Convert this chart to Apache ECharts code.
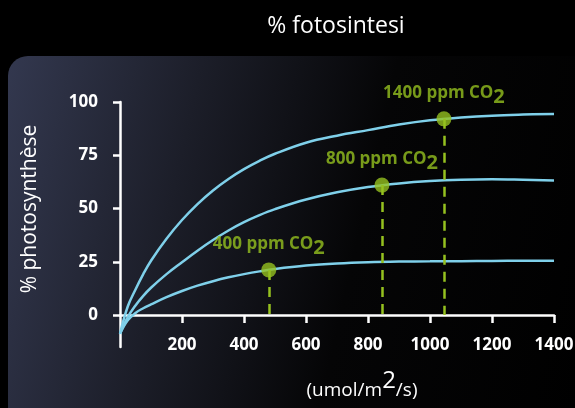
<!DOCTYPE html>
<html><head><meta charset="utf-8">
<script src="https://cdn.jsdelivr.net/npm/echarts@6/dist/echarts.min.js"></script>
<style>html,body{margin:0;padding:0;background:#000;}#c{width:575px;height:408px;}</style>
</head><body><div id="c"></div>
<script>
var xTicks = [200, 400, 600, 800, 1000, 1200, 1400];
var yTicks = [0, 25, 50, 75, 100];
var curveX    = [0,    25,   50,  75,   100,  150,  200,  250,  300,  350,  400,  450,  500,  600,  700,  800,  900,  1000, 1100, 1200, 1300,  1400];
var curve1400 = [-8.8, 4,    12,  19.2, 25.5, 35.8, 44.6, 52.1, 58.5, 63.9, 68.5, 72.4, 75.7, 80.9, 84.2, 86.8, 89.4, 91.4, 92.7, 93.6, 94.1,  94.4];
var curve800  = [-8.8, -1,   4.5, 9,    12.8, 19.2, 24.8, 30.2, 35.2, 39.7, 43.6, 46.9, 49.7, 54.2, 57.6, 60.1, 61.8, 62.9, 63.5, 63.7, 63.5,  63.2];
var curve400  = [-8.8, -2.5, 1,   3.2,  5,    8.4,  11.3, 13.8, 15.9, 17.7, 19.2, 20.5, 21.6, 23.2, 24.2, 24.8, 25.1, 25.2, 25.3, 25.4, 25.45, 25.5];
var pointsX = [480, 845, 1045];
var pointsY = [21.2, 61.0, 92.1];
var pointLabels = ['400 ppm CO', '800 ppm CO', '1400 ppm CO'];

var chart = echarts.init(document.getElementById('c'));
var font = 'Open Sans';
var green = '#95c11f';
var blue = '#7fd0ea';

function curveSeries(ys){
  return {type:'line', data:curveX.map(function(x,i){return [x, ys[i]];}),
    smooth:0.4, symbol:'none', clip:false,
    lineStyle:{color:blue, width:2.5}, z:3};
}
var ptData = pointsX.map(function(x,i){
  return {value:[x, pointsY[i]], label:{formatter:'{a|'+pointLabels[i]+'}{b|2}'}};
});
var dashData = pointsX.map(function(x,i){
  return [{coord:[x, pointsY[i]]},{coord:[x, 0]}];
});

chart.setOption({
  backgroundColor:'#000',
  animation:false,
  title:{text:'% fotosintesi', left:331, top:10, textAlign:'center',
    textStyle:{color:'#fff', fontFamily:font, fontWeight:'normal', fontSize:23}},
  graphic:[
    {type:'rect', z:-10, shape:{x:8, y:56, width:620, height:400, r:20},
      style:{fill:new echarts.graphic.LinearGradient(0,0,1,0.35,[
        {offset:0, color:'#33384f'},
        {offset:0.3, color:'#1c1e29'},
        {offset:0.6, color:'#050506'},
        {offset:1, color:'#000'}])}},
    {type:'text', x:30, y:209, rotation:Math.PI/2, z:10,
      style:{text:'% photosynthèse', fill:'#fff', font:'500 21px "Open Sans"', align:'center', verticalAlign:'middle'}}
  ],
  grid:{left:120, right:21, top:102, bottom:61, outerBoundsMode:'none', containLabel:false},
  xAxis:{type:'value', min:0, max:1400, interval:200, offset:-32,
    axisLine:{onZero:false, lineStyle:{color:'#fff', width:2.5}},
    axisTick:{show:true, length:8, lineStyle:{color:'#fff', width:2.5}},
    splitLine:{show:false},
    axisLabel:{showMinLabel:false, color:'#fff', fontFamily:font, fontWeight:'bold', fontSize:17, margin:22,
      formatter:function(v){return v===0?'':String(v);}},
    name:'{a|(umol/m}{b|2}{a|/s)}', nameLocation:'middle', nameGap:54,
    nameTextStyle:{padding:[0,0,0,50], rich:{a:{color:'#fff', fontFamily:font, fontSize:19, fontWeight:500, verticalAlign:'bottom'},
                         b:{color:'#fff', fontFamily:font, fontSize:24, fontWeight:500, verticalAlign:'bottom', padding:[0,0,7,0]}}}
  },
  yAxis:{type:'value', min:-15, max:100,
    axisLine:{show:true, onZero:false, lineStyle:{color:'#fff', width:2.5}},
    axisTick:{show:true, length:7, customValues:yTicks, lineStyle:{color:'#fff', width:2.5}},
    splitLine:{show:false},
    axisLabel:{customValues:yTicks, color:'#fff', fontFamily:font, fontWeight:'bold', fontSize:17, margin:22}
  },
  series:[
    curveSeries(curve1400), curveSeries(curve800), curveSeries(curve400),
    {type:'scatter', data:ptData, symbol:'circle', symbolSize:15, z:5,
      itemStyle:{color:green},
      label:{show:true, position:'top', distance:10,
        rich:{a:{color:green, fontFamily:font, fontWeight:'bold', fontSize:17, verticalAlign:'bottom'},
              b:{color:green, fontFamily:font, fontWeight:'bold', fontSize:20, verticalAlign:'bottom', padding:[0,0,-6,0]}}},
      markLine:{symbol:'none', silent:true, label:{show:false},
        lineStyle:{color:green, width:2.5, type:[10,7]}, data:dashData}
    }
  ]
});
</script></body></html>
